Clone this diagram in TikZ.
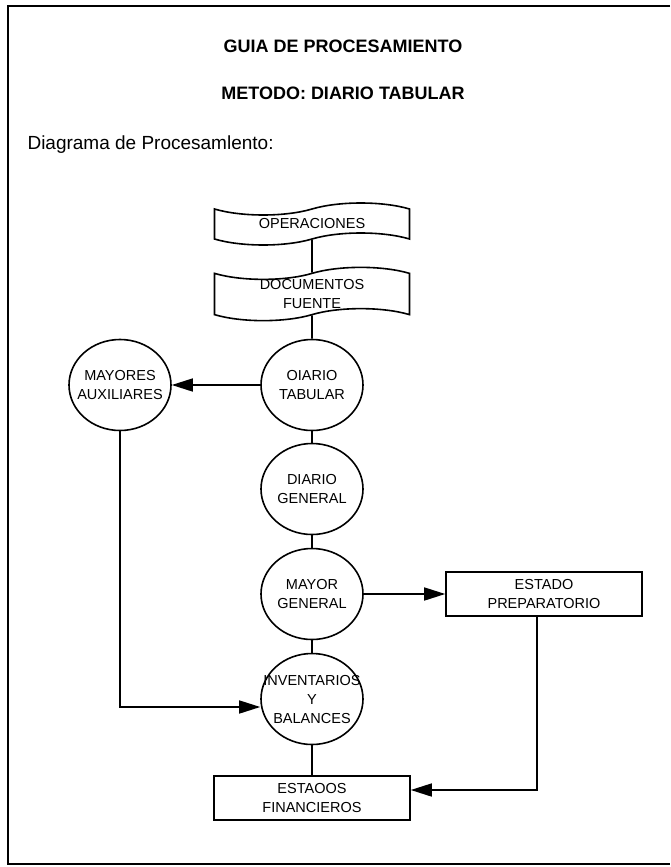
\documentclass[tikz,border=0pt]{standalone}
\usepackage{fontspec}
\setmainfont{Liberation Sans}
\usetikzlibrary{positioning,shapes.geometric,shapes.symbols,arrows.meta}

\begin{document}
\begin{tikzpicture}[x=1pt,y=-1pt, on grid,
    every node/.style={font=\fontsize{14.5}{19}\selectfont, align=center},
    circ/.style={draw, ellipse, line width=1.6pt, minimum width=102pt, minimum height=91pt, inner xsep=-30pt, inner ysep=0pt},
    caja/.style={draw, rectangle, line width=1.6pt, minimum width=196pt, minimum height=44pt, inner sep=0pt},
    cinta/.style={draw, tape, line width=1.6pt, minimum width=195pt, minimum height=42pt, inner sep=0pt, tape bend height=12pt},
    linea/.style={line width=1.6pt},
    flecha/.style={line width=1.6pt, -{Triangle[length=21pt,width=13pt]}}]
\useasboundingbox (0,0) rectangle (670,867);
\draw[linea] (670,6) -- (8,6) -- (8,864) -- (670,864);
\node(T1) at (343,46) {\fontsize{18}{21}\selectfont\bfseries GUIA DE PROCESAMIENTO};
\node(T2) at (343,93) {\fontsize{18}{21}\selectfont\bfseries METODO: DIARIO TABULAR};
\node(T3)[anchor=west] at (24,145) {\fontsize{19}{22}\selectfont Diagrama de Procesamlento:};
\node(OP)[cinta] at (312,224) {OPERACIONES};
\node(DF)[cinta, below=70pt of OP] {DOCUMENTOS\\FUENTE};
\node(DT)[circ, below=91pt of DF] {OIARIO\\TABULAR};
\node(DG)[circ, below=104pt of DT] {DIARIO\\GENERAL};
\node(MG)[circ, below=105pt of DG] {MAYOR\\GENERAL};
\node(IB)[circ, below=105pt of MG] {INVENTARIOS\\Y\\BALANCES};
\node(EF)[caja, below=99pt of IB] {ESTAOOS\\FINANCIEROS};
\node(MA)[circ, left=192pt of DT] {MAYORES\\AUXILIARES};
\node(EP)[caja, right=232pt of MG] {ESTADO\\PREPARATORIO};
\draw[linea] (OP) -- (DF);
\draw[linea] (DF) -- (DT);
\draw[linea] (DT) -- (DG);
\draw[linea] (DG) -- (MG);
\draw[linea] (MG) -- (IB);
\draw[linea] (IB) -- (EF);
\draw[flecha] (DT) -- (MA);
\draw[flecha] (MG) -- (EP);
\draw[flecha] (MA) |- ([yshift=-8pt]IB.west);
\draw[flecha] ([xshift=-7pt]EP.south) |- ([yshift=8pt]EF.east);
\end{tikzpicture}
\end{document}
